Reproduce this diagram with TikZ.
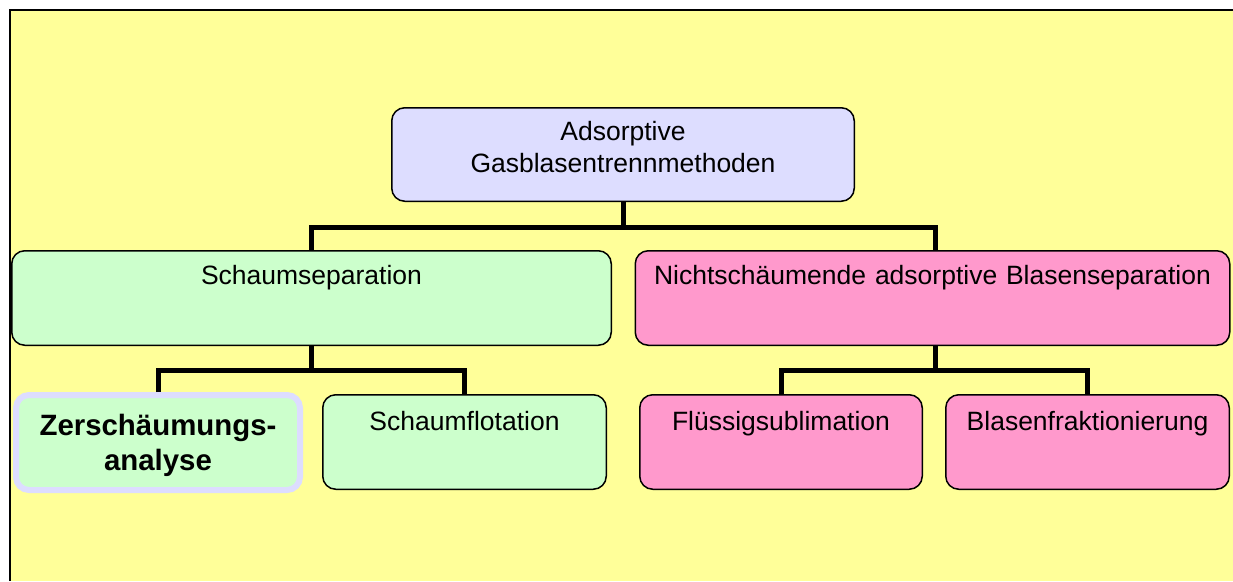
\documentclass[tikz,border=0pt]{standalone}
\usepackage{fontspec}
\setmainfont{Liberation Sans}
\usepackage{tikz}
\usetikzlibrary{calc}
\definecolor{sheetyellow}{HTML}{FFFF99}
\definecolor{rootlilac}{HTML}{DDDDFF}
\definecolor{foamgreen}{HTML}{CCFFCC}
\definecolor{bubblepink}{HTML}{FF99CC}

\begin{document}
\begin{tikzpicture}[x=1pt, y=-1pt,
    box/.style={draw=black, line width=1.5pt, rounded corners=13pt, inner sep=0pt,
                align=center, font=\fontsize{26.5}{32}\selectfont},
    midrow/.style={text height=33.25pt, text depth=61.25pt},
    lowrow/.style={text height=35.75pt, text depth=58.75pt},
    conn/.style={line width=5pt}]
  \useasboundingbox (0,0) rectangle (1233,581);
  % yellow sheet, only its top and left edge are visible
  \fill[sheetyellow] (10.3,10.3) rectangle (1233,581);
  \draw[line width=2pt] (10.3,581) -- (10.3,10.3) -- (1233,10.3);

  % boxes
  \node[box, fill=rootlilac, text width=462.5pt, text height=32.25pt, text depth=61.25pt]
    (root) at (623,154.5) {Adsorptive\\Gasblasentrennmethoden};
  \node[box, midrow, fill=foamgreen, text width=599.5pt] (schaum) at (311.5,298) {Schaumseparation};
  \node[box, midrow, fill=bubblepink, text width=594.5pt] (nicht) at (932.5,298)
    {Nichtschäumende adsorptive Blasenseparation};
  \node[box, draw=rootlilac, line width=6pt, fill=foamgreen, text width=284pt,
        text height=40pt, text depth=55pt, font=\fontsize{29.4}{35}\selectfont\bfseries]
    (zer) at (158,442.5) {Zerschäumungs-\\analyse};
  \node[box, lowrow, fill=foamgreen, text width=283.5pt] (flot) at (464.5,442) {Schaumflotation};
  \node[box, lowrow, fill=bubblepink, text width=282.5pt] (fluss) at (781,442) {Flüssigsublimation};
  \node[box, lowrow, fill=bubblepink, text width=283.5pt] (blase) at (1087.5,442) {Blasenfraktionierung};

  % connectors
  \draw[conn] (root.south) -- ++(0,25) coordinate (rootfork);
  \draw[conn] (schaum.north) |- (rootfork) -| ([xshift=2.5pt]nicht.north);
  \draw[conn] (schaum.south) -- ++(0,24) coordinate (schaumfork);
  \draw[conn] (zer.north) |- (schaumfork) -| (flot.north);
  \draw[conn] ([xshift=2.5pt]nicht.south) -- ++(0,24) coordinate (nichtfork);
  \draw[conn] (fluss.north) |- (nichtfork) -| (blase.north);
\end{tikzpicture}
\end{document}
